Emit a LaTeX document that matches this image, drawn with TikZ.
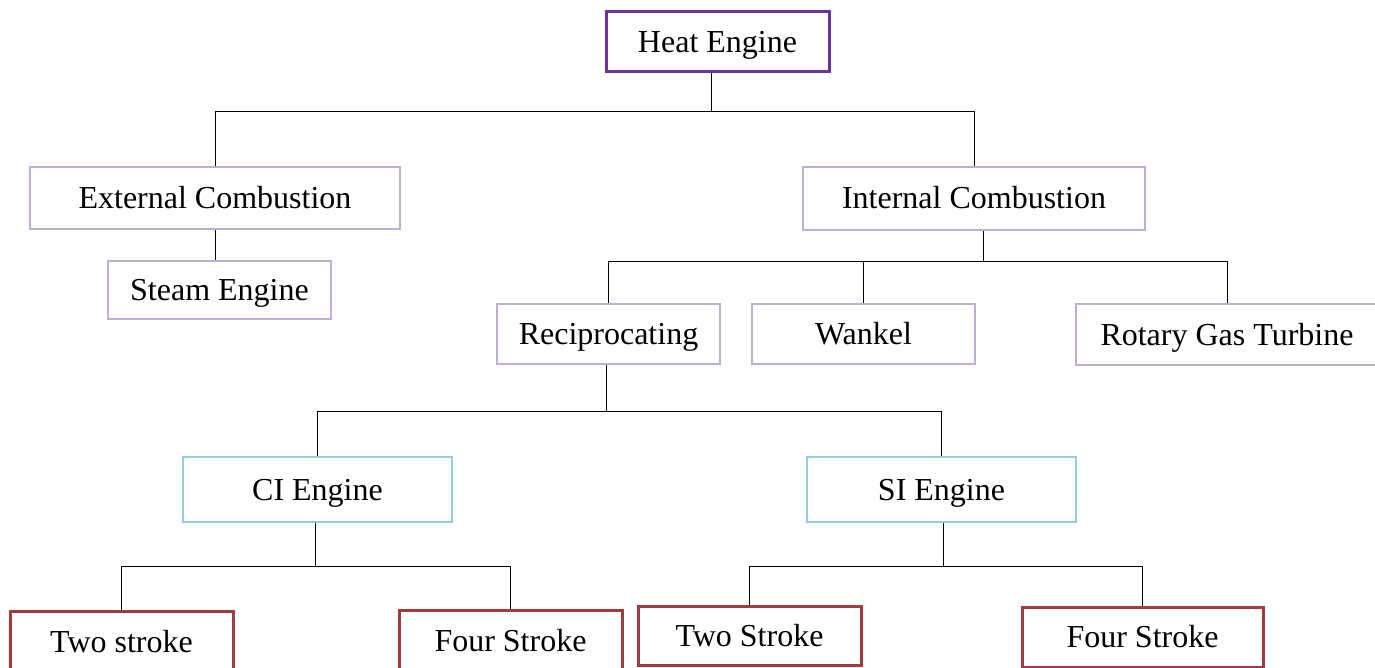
\documentclass[tikz,border=0pt]{standalone}
\usepackage{fontspec}
\setmainfont{Liberation Serif}
\usepackage{xcolor}
\definecolor{heatpurple}{HTML}{7030A0}
\definecolor{lilac}{HTML}{BCAED6}
\definecolor{skyblue}{HTML}{93CDDD}
\definecolor{brickred}{HTML}{A03C3C}
\tikzset{
	box/.style={draw, inner sep=0pt, text height=21pt, text depth=0pt, font=\fontsize{32}{38}\selectfont},
	topbox/.style={box, draw=heatpurple, line width=3pt},
	typebox/.style={box, draw=lilac, line width=2pt},
	enginebox/.style={box, draw=skyblue, line width=2pt},
	strokebox/.style={box, draw=brickred, line width=3pt},
	link/.style={draw=black, line width=1pt}
}
\begin{document}
\begin{tikzpicture}[x=1pt,y=-1pt]
				\useasboundingbox (0,0) rectangle (1375,668);
				
				\node[topbox, minimum width=223pt, minimum height=60pt] (heat) at (717.5,42) {Heat Engine};
				
				\node[typebox, minimum width=370pt, minimum height=62pt] (ext) at (215,198) {External Combustion};
				\node[typebox, minimum width=223pt, minimum height=58pt] (steam) at (219.5,290) {Steam Engine};
				\node[typebox, minimum width=342pt, minimum height=63pt] (int) at (974,198.5) {Internal Combustion};
				
				\node[typebox, minimum width=223pt, minimum height=60pt] (recip) at (608.5,334) {Reciprocating};
				\node[typebox, minimum width=223pt, minimum height=60pt] (wankel) at (863.5,334) {Wankel};
				\node[typebox, minimum width=302pt, minimum height=61pt] (rotary) at (1227,334.5) {Rotary Gas Turbine};
				
				\node[enginebox, minimum width=269pt, minimum height=65pt] (ci) at (317.5,489.5) {CI Engine};
				\node[enginebox, minimum width=269pt, minimum height=65pt] (si) at (941.5,489.5) {SI Engine};
				
				\node[strokebox, minimum width=223pt, minimum height=61pt] (citwo) at (121.5,641.5) {Two stroke};
				\node[strokebox, minimum width=223pt, minimum height=61pt] (cifour) at (510.5,640.5) {Four Stroke};
				\node[strokebox, minimum width=223pt, minimum height=59pt] (sitwo) at (749.5,635.5) {Two Stroke};
				\node[strokebox, minimum width=241pt, minimum height=60pt] (sifour) at (1142.5,637) {Four Stroke};
				
				% junctions of the branch lines
				\coordinate (busA) at (711,112);
				\coordinate (busB) at (983,262);
				\coordinate (busC) at (606,411);
				\coordinate (busD) at (315,566);
				\coordinate (busE) at (943,566);
				
				\draw[link] (busA |- heat.south) -- (busA);
				\draw[link] (busA) -| (ext.north);
				\draw[link] (busA) -| (int.north);
				\draw[link] (ext.south) -- (ext.south |- steam.north);
				
				\draw[link] (busB |- int.south) -- (busB);
				\draw[link] (busB) -| (recip.north);
				\draw[link] (busB) -| (wankel.north);
				\draw[link] (busB) -| (rotary.north);
				
				\draw[link] (busC |- recip.south) -- (busC);
				\draw[link] (busC) -| (ci.north);
				\draw[link] (busC) -| (si.north);
				
				\draw[link] (busD |- ci.south) -- (busD);
				\draw[link] (busD) -| (citwo.north);
				\draw[link] (busD) -| (cifour.north);
				
				\draw[link] (busE |- si.south) -- (busE);
				\draw[link] (busE) -| (sitwo.north);
				\draw[link] (busE) -| (sifour.north);
			\end{tikzpicture}
\end{document}
